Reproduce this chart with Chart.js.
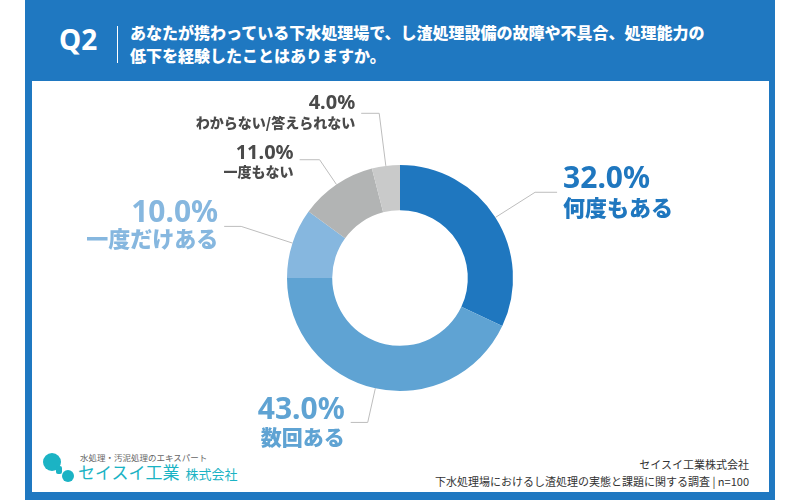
<!DOCTYPE html>
<html lang="ja">
<head>
<meta charset="utf-8">
<script src="https://cdn.jsdelivr.net/npm/chart.js@4.4.1/dist/chart.umd.min.js"></script>
<style>
    html, body { margin: 0; padding: 0; background: #ffffff; }
    body { width: 800px; height: 500px; position: relative; overflow: hidden;
           font-family: "Noto Sans CJK JP", "Noto Sans", sans-serif; }
    #frame { position: absolute; left: 25px; top: 0; width: 750px; height: 500px; background: #1f78c1; }
    #panel { position: absolute; left: 32px; top: 81px; width: 737px; height: 411px; background: #ffffff; }
    #q { position: absolute; left: 59px; top: 20px; color: #fff; font: 700 28px "Noto Sans", sans-serif; }
    #sep { position: absolute; left: 117px; top: 26px; width: 1px; height: 37px; background: #fff; }
    #title { position: absolute; left: 130px; top: 21px; color: #fff; font-weight: 900; font-size: 16px; line-height: 23px; }
    .dot { position: absolute; border-radius: 50%; background: #1bb3c4; }
    #tag { position: absolute; left: 80px; top: 451px; font-size: 8.5px; color: #666; }
    #brand { position: absolute; left: 78px; top: 460px; font-size: 17px; line-height: 24px; color: #1bb3c4; }
    #brand span { font-size: 13px; margin-left: 6px; }
    #src { position: absolute; right: 51px; top: 456px; text-align: right; font-size: 11px; line-height: 17px; color: #333; }
    canvas { position: absolute; left: 0; top: 0; }
</style>
</head>
<body>
<div id="frame"></div>
<div id="panel"></div>
<div id="q">Q2</div>
<div id="sep"></div>
<div id="title">あなたが携わっている下水処理場で、し渣処理設備の故障や不具合、処理能力の<br>低下を経験したことはありますか。</div>
<div class="dot" style="left:43px;top:453px;width:18px;height:18px;"></div>
<div class="dot" style="left:56px;top:466px;width:6px;height:8px;border-radius:2px;"></div>
<div class="dot" style="left:62px;top:470px;width:12px;height:12px;"></div>
<div id="tag">水処理・汚泥処理のエキスパート</div>
<div id="brand">セイスイ工業<span>株式会社</span></div>
<div id="src">セイスイ工業株式会社<br>下水処理場におけるし渣処理の実態と課題に関する調査 | n=100</div>
<canvas id="chart" width="800" height="500"></canvas>
<script>
const categories = ['何度もある', '数回ある', '一度だけある', '一度もない', 'わからない/答えられない'];
const values = [32.0, 43.0, 10.0, 11.0, 4.0];
const colors = ['#1f77bf', '#5fa3d3', '#86b7df', '#b2b4b4', '#c9caca'];
const textColors = ['#1f77bf', '#5fa3d3', '#86b7df', '#4a4a4a', '#4a4a4a'];

// leader line + label layout for each slice (radial length, horizontal length, text offsets, font sizes)
const labelLayout = [
    { radial: 47, horiz: 22,  pctDy: -13, catDy: 15, pctSize: 30, catSize: 22 },
    { radial: 35, horiz: -17, pctDy: -12, catDy: 15, pctSize: 30, catSize: 21 },
    { radial: 54, horiz: -17, pctDy: -13, catDy: 12, pctSize: 30, catSize: 22 },
    { radial: 30, horiz: -20, pctDy: -6,  catDy: 12, pctSize: 20, catSize: 14 },
    { radial: 53, horiz: -18, pctDy: -10, catDy: 9,  pctSize: 20, catSize: 14 }
];

const outsideLabels = {
    id: 'outsideLabels',
    afterDatasetsDraw(chart) {
        const ctx = chart.ctx;
        const arcs = chart.getDatasetMeta(0).data;
        arcs.forEach((arc, i) => {
            const lay = labelLayout[i];
            const mid = (arc.startAngle + arc.endAngle) / 2;
            const sx = arc.x + Math.cos(mid) * arc.outerRadius;
            const sy = arc.y + Math.sin(mid) * arc.outerRadius;
            const ex = sx + Math.cos(mid) * lay.radial;
            const ey = sy + Math.sin(mid) * lay.radial;
            const hx = ex + lay.horiz;

            ctx.save();
            ctx.strokeStyle = '#bdbdbd';
            ctx.lineWidth = 1;
            ctx.beginPath();
            ctx.moveTo(sx, sy);
            ctx.lineTo(ex, ey);
            ctx.lineTo(hx, ey);
            ctx.stroke();

            const right = lay.horiz > 0;
            const tx = right ? hx + 6 : hx - 6;
            ctx.textAlign = right ? 'left' : 'right';
            ctx.textBaseline = 'middle';
            ctx.fillStyle = textColors[i];
            ctx.font = `700 ${lay.pctSize}px "Noto Sans", sans-serif`;
            ctx.fillText(values[i].toFixed(1) + '%', tx, ey + lay.pctDy);
            ctx.font = `900 ${lay.catSize}px "Noto Sans CJK JP", sans-serif`;
            ctx.fillText(categories[i], tx, ey + lay.catDy);
            ctx.restore();
        });
    }
};

new Chart(document.getElementById('chart').getContext('2d'), {
    type: 'doughnut',
    data: {
        labels: categories,
        datasets: [{
            data: values,
            backgroundColor: colors,
            borderWidth: 0
        }]
    },
    options: {
        responsive: false,
        animation: false,
        cutout: '60%',
        layout: { padding: { top: 165, bottom: 109, left: 287, right: 287 } },
        plugins: {
            legend: { display: false },
            tooltip: { enabled: false }
        }
    },
    plugins: [outsideLabels]
});
</script>
</body>
</html>
